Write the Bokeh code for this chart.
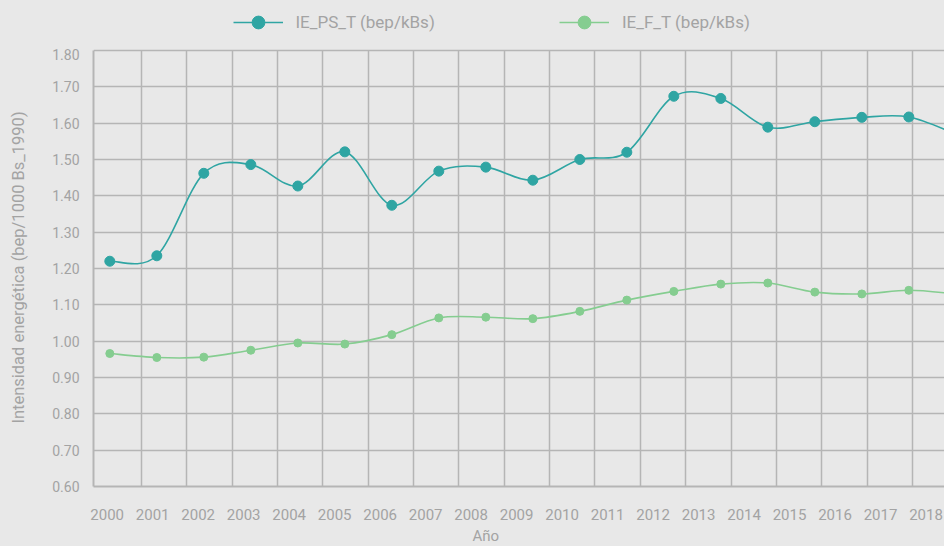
import numpy as np
from bokeh.plotting import figure
from bokeh.layouts import column
from bokeh.models import (Range1d, LinearAxis, FixedTicker, Grid, Legend, LegendItem,
                          Title, NumeralTickFormatter)
from bokeh.embed import file_html
from bokeh.resources import INLINE

# ---- data ----
years = [2000, 2001, 2002, 2003, 2004, 2005, 2006, 2007, 2008, 2009,
         2010, 2011, 2012, 2013, 2014, 2015, 2016, 2017, 2018]
tick_labels = [str(y) for y in years]
ie_ps_t = [1.220, 1.235, 1.462, 1.486, 1.427, 1.521, 1.374, 1.468, 1.479, 1.443,
           1.500, 1.520, 1.674, 1.668, 1.589, 1.604, 1.616, 1.617, 1.570]
ie_f_t = [0.966, 0.955, 0.956, 0.975, 0.995, 0.992, 1.018, 1.064, 1.066, 1.062,
          1.082, 1.113, 1.137, 1.157, 1.160, 1.135, 1.130, 1.140, 1.130]
y_ticks = [0.6, 0.7, 0.8, 0.9, 1.0, 1.1, 1.2, 1.3, 1.4, 1.5, 1.6, 1.7, 1.8]
series_names = ["IE_PS_T (bep/kBs)", "IE_F_T (bep/kBs)"]
y_title = "Intensidad energética (bep/1000 Bs_1990)"
x_title = "Año"

# ---- style ----
TEAL = "#2fa5a3"
GREEN = "#85cd90"
BG = "#e8e8e8"
GRID = "#b5b5b5"
TXT = "#a3a3a3"
FONT = "Roboto"
colors = [TEAL, GREEN]
marker_sizes = [10, 8]
series = [ie_ps_t, ie_f_t]

y_lo, y_hi = y_ticks[0], y_ticks[-1]

# ---------------- legend strip (top) ----------------
top = figure(width=944, height=48, output_backend="svg", toolbar_location=None,
             x_axis_type=None, y_axis_type=None,
             min_border_left=93, min_border_right=0, min_border_top=0, min_border_bottom=0,
             x_range=Range1d(1999.653, 2017.759), y_range=Range1d(0.6, 1.8))
top.background_fill_color = BG
top.border_fill_color = BG
top.outline_line_color = None

for name, vals, color, loc in zip(series_names, series, colors, [(139.5, 10), (466, 10)]):
    # legend keys only: these renderers are hidden in the strip
    lr = top.line(x=years, y=vals, line_color=color, line_width=1.6, visible=False)
    sr = top.scatter(x=years, y=vals, marker="circle", fill_color=color, line_color=color,
                     visible=False)
    leg = Legend(items=[LegendItem(label=name, renderers=[lr, sr])], location=loc,
                 orientation="horizontal", glyph_width=50, glyph_height=32,
                 label_standoff=13, padding=0, margin=0, spacing=0,
                 background_fill_alpha=0, border_line_color=None,
                 inactive_fill_alpha=0, click_policy="none",
                 label_text_font=FONT, label_text_font_size="17px",
                 label_text_color=TXT)
    top.add_layout(leg, "center")

# ---------------- main chart ----------------
p = figure(width=944, height=498, output_backend="svg", toolbar_location=None,
           x_axis_type=None, x_range=Range1d(-0.0584, 18.707),
           y_range=Range1d(0.6, 1.8055),
           min_border_left=93, min_border_right=0, min_border_top=0, min_border_bottom=59)
p.background_fill_color = BG
p.border_fill_color = BG
p.outline_line_color = None

p.extra_x_ranges = {"data": Range1d(1999.653, 2017.759),
                    "labels": Range1d(1999.699, 2018.406)}

# y axis
p.yaxis.ticker = FixedTicker(ticks=y_ticks)
p.yaxis.bounds = (y_lo, y_hi)
p.yaxis.formatter = NumeralTickFormatter(format="0.00")
p.yaxis.major_tick_line_color = None
p.yaxis.minor_tick_line_color = None
p.yaxis.axis_line_color = GRID
p.yaxis.axis_line_width = 2
p.yaxis.major_label_standoff = 8
p.yaxis.major_label_text_font = FONT
p.yaxis.major_label_text_font_size = "14px"
p.yaxis.major_label_text_color = TXT
p.yaxis.axis_label = y_title
p.yaxis.axis_label_text_font = FONT
p.yaxis.axis_label_text_font_style = "normal"
p.yaxis.axis_label_text_font_size = "16.5px"
p.yaxis.axis_label_text_color = TXT
p.yaxis.axis_label_standoff = 21

p.ygrid.ticker = FixedTicker(ticks=y_ticks)
p.ygrid.grid_line_color = GRID
p.ygrid.grid_line_width = 1.5

# vertical grid lines
vgrid = Grid(dimension=0, ticker=FixedTicker(ticks=list(range(1, 19))),
             cross_bounds=(y_lo, y_hi),
             grid_line_color=GRID, grid_line_width=1.5)
p.add_layout(vgrid)

# bottom axis with year labels
xaxis = LinearAxis(x_range_name="labels", ticker=FixedTicker(ticks=years),
                   major_label_overrides={y: t for y, t in zip(years, tick_labels)})
xaxis.major_tick_line_color = None
xaxis.minor_tick_line_color = None
xaxis.axis_line_color = GRID
xaxis.axis_line_width = 2
xaxis.major_label_standoff = 16
xaxis.major_label_text_font = FONT
xaxis.major_label_text_font_size = "15px"
xaxis.major_label_text_color = TXT
p.add_layout(xaxis, "below")

p.add_layout(Title(text=x_title, align="left", offset=379, standoff=4,
                   text_font=FONT, text_font_size="15px", text_font_style="normal",
                   text_color=TXT), "below")


def catmull_bezier(xs, ys):
    x = np.asarray(xs, dtype=float)
    y = np.asarray(ys, dtype=float)
    n = len(x)
    xp = np.r_[x[0], x, x[-1]]
    yp = np.r_[y[0], y, y[-1]]
    return dict(
        x0=x[:-1], y0=y[:-1], x1=x[1:], y1=y[1:],
        cx0=xp[1:n] + (xp[2:n + 1] - xp[0:n - 1]) / 6.0,
        cy0=yp[1:n] + (yp[2:n + 1] - yp[0:n - 1]) / 6.0,
        cx1=xp[2:n + 1] - (xp[3:n + 2] - xp[1:n]) / 6.0,
        cy1=yp[2:n + 1] - (yp[3:n + 2] - yp[1:n]) / 6.0,
    )


for vals, color, msize in zip(series, colors, marker_sizes):
    b = catmull_bezier(years, vals)
    p.bezier(x0=b["x0"], y0=b["y0"], x1=b["x1"], y1=b["y1"],
             cx0=b["cx0"], cy0=b["cy0"], cx1=b["cx1"], cy1=b["cy1"],
             line_color=color, line_width=1.6, x_range_name="data")
    p.scatter(x=years, y=vals, marker="circle", size=msize, fill_color=color,
              line_color=color, x_range_name="data")

layout = column(top, p, spacing=0, styles={"background-color": BG})
open("out.html", "w").write(file_html(layout, INLINE))
